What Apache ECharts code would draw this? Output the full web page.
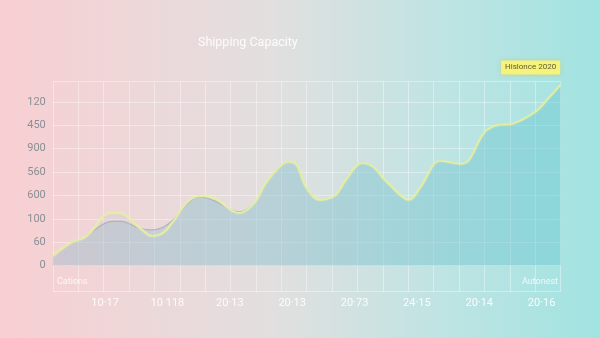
<!DOCTYPE html>
<html>
<head>
<meta charset="utf-8">
<script src="https://cdn.jsdelivr.net/npm/echarts@6/dist/echarts.min.js"></script>
<style>html,body{margin:0;padding:0;}#c{width:600px;height:338px;}</style>
</head>
<body>
<div id="c"></div>
<script>
// ---- data ----
var yTickLabels = ['0', '60', '100', '600', '560', '900', '450', '120'];
var xTickLabels = ['10·17', '10 118', '20·13', '20·13', '20·73', '24·15', '20·14', '20·16'];
// x positions in grid columns (0..20)
var xPos = [0, 0.68, 1.2, 1.47, 2.25, 2.65, 3.43, 3.9, 4.34, 4.73, 5.27, 5.76, 6.35, 7.33, 7.94, 8.48, 9.3, 9.6, 9.97, 10.5, 11.1, 11.55, 12.17, 12.6, 13.14, 14.05, 14.5, 15.25, 16.08, 16.4, 16.98, 17.44, 18.12, 19.02, 19.46, 20];
// main (yellow) series, in tick-index units
var capacity = [0.41, 0.96, 1.17, 1.40, 2.26, 2.25, 1.61, 1.27, 1.40, 1.88, 2.68, 2.98, 2.89, 2.25, 2.68, 3.66, 4.43, 4.30, 3.36, 2.81, 2.98, 3.66, 4.39, 4.23, 3.59, 2.81, 3.38, 4.47, 4.35, 4.52, 5.67, 5.98, 6.06, 6.58, 7.08, 7.72];
// secondary (grey) series
var baseline = [0.41, 0.96, 1.17, 1.40, 1.88, 1.90, 1.60, 1.53, 1.64, 1.95, 2.62, 2.95, 2.78, 2.30, 2.68, 3.66, 4.43, 4.30, 3.36, 2.81, 2.98, 3.66, 4.39, 4.23, 3.59, 2.81, 3.38, 4.47, 4.35, 4.52, 5.67, 5.98, 6.06, 6.58, 7.08, 7.72];
var annotation = 'Hislonce 2020';

function pairs(xs, ys) { return xs.map(function (x, i) { return [x, ys[i]]; }); }

var chart = echarts.init(document.getElementById('c'), null, { renderer: 'canvas' });
var gridLine = { show: true, lineStyle: { color: 'rgba(255,255,255,0.38)', width: 1 } };
var FONT = 'Roboto, "Noto Sans", sans-serif';

var capData = pairs(xPos, capacity);
var last = capData.length - 1;

var labelStart = 2.06, labelStep = 2.456;

chart.setOption({
  backgroundColor: {
    type: 'linear', x: 0, y: 0, x2: 1, y2: 0,
    colorStops: [
      { offset: 0, color: '#f8cfd2' },
      { offset: 0.45, color: '#e2dfdf' },
      { offset: 0.75, color: '#bde4e3' },
      { offset: 1, color: '#a1e3e1' }
    ]
  },
  animation: false,
  title: {
    text: 'Shipping Capacity', left: 193, top: 31,
    textStyle: { color: 'rgba(255,255,255,0.9)', fontSize: 12.5, fontWeight: 'normal', fontFamily: FONT }
  },
  grid: [
    { left: 52.8, right: 39.4, top: 81.7, height: 184 },
    { left: 52.8, right: 39.4, top: 265.7, height: 26 }
  ],
  xAxis: [
    { type: 'value', gridIndex: 0, min: 0, max: 20, interval: 1,
      axisLine: { show: false }, axisTick: { show: false }, axisLabel: { show: false }, splitLine: gridLine },
    { type: 'value', gridIndex: 1, min: 0, max: 20, interval: 1,
      axisLine: { show: false }, axisTick: { show: false }, axisLabel: { show: false }, splitLine: gridLine },
    { type: 'value', gridIndex: 1, position: 'bottom',
      min: -labelStart / labelStep, max: (20 - labelStart) / labelStep, splitNumber: 8,
      axisLine: { show: false }, axisTick: { show: false }, splitLine: { show: false },
      axisLabel: {
        show: true, margin: 6, color: 'rgba(255,255,255,0.9)', fontSize: 11, fontFamily: FONT,
        formatter: function (v) {
          var r = Math.round(v);
          if (Math.abs(v - r) > 1e-6 || r < 0 || r >= xTickLabels.length) return '';
          return xTickLabels[r];
        }
      }
    }
  ],
  yAxis: [
    { type: 'value', gridIndex: 0, min: 0, max: 7.86, interval: 1,
      axisLine: { show: false }, axisTick: { show: false }, splitLine: gridLine,
      axisLabel: {
        margin: 7, color: '#8b8f96', fontSize: 11, fontFamily: FONT,
        formatter: function (v) {
          var r = Math.round(v);
          if (Math.abs(v - r) > 1e-6 || r < 0 || r >= yTickLabels.length) return '';
          return yTickLabels[r];
        }
      }
    },
    { type: 'value', gridIndex: 1, min: 0, max: 1, interval: 1,
      axisLine: { show: false }, axisTick: { show: false }, axisLabel: { show: false }, splitLine: gridLine }
  ],
  graphic: [
    { type: 'text', left: 57, top: 277, style: { text: 'Cations', fill: 'rgba(255,255,255,0.8)', fontSize: 9, fontFamily: FONT } },
    { type: 'text', right: 42, top: 277, style: { text: 'Autonest', fill: 'rgba(255,255,255,0.8)', fontSize: 9, fontFamily: FONT } }
  ],
  series: [
    {
      type: 'line', xAxisIndex: 0, yAxisIndex: 0, data: pairs(xPos, baseline),
      smooth: 0.35, symbol: 'none',
      lineStyle: { color: 'rgba(120,140,155,0.45)', width: 1.2 },
      areaStyle: {
        color: { type: 'linear', x: 0, y: 0, x2: 1, y2: 0,
          colorStops: [{ offset: 0, color: 'rgba(140,180,200,0.45)' }, { offset: 1, color: 'rgba(105,200,210,0.55)' }] }
      },
      z: 2
    },
    {
      type: 'line', xAxisIndex: 0, yAxisIndex: 0, data: capData,
      smooth: 0.35, symbol: 'none',
      lineStyle: { color: '#e6eea0', width: 1.6, shadowColor: 'rgba(240,250,170,0.7)', shadowBlur: 2 },
      areaStyle: {
        color: { type: 'linear', x: 0, y: 0, x2: 1, y2: 0,
          colorStops: [{ offset: 0, color: 'rgba(165,190,205,0.22)' }, { offset: 1, color: 'rgba(120,205,212,0.28)' }] }
      },
      markPoint: {
        symbol: 'circle', symbolSize: 1, itemStyle: { color: 'rgba(0,0,0,0)' },
        data: [{ coord: capData[last] }],
        label: {
          show: true, formatter: annotation, position: 'top', distance: 4, offset: [-30, -6],
          backgroundColor: '#f6f27a', padding: [3, 4], borderRadius: 1,
          color: '#5d5b34', fontSize: 8, fontFamily: FONT,
          shadowColor: 'rgba(200,200,80,0.5)', shadowBlur: 4
        }
      },
      z: 3
    }
  ]
});
</script>
</body>
</html>
